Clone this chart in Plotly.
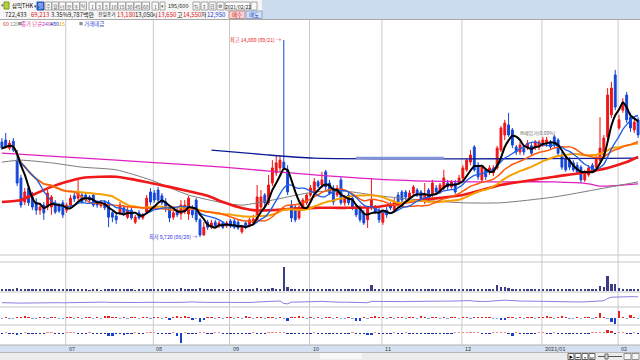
import plotly.graph_objects as go
import pandas as pd

# ---------------- data ----------------
month_labels = ["07", "08", "09", "10", "11", "12", "2021/01", "02"]
month_start = [17, 40, 60, 81, 100, 121, 142, 162]

open_p = [
    12170, 12220, 12010, 12190, 11700, 11240, 10620, 10980, 10750, 10620,
    10410, 10540, 10490, 10490, 10600, 10540, 10600, 10410, 10540, 10780,
    10720, 10800, 10800, 10750, 10800, 10620, 10520, 10600, 10600, 10340,
    10260, 10340, 10470, 10230, 10410, 10100, 10340, 10210, 10360, 10880,
    10850, 10930, 10780, 10620, 10470, 10230, 10410, 10310, 10410, 10310,
    10410, 10670, 10160, 9770, 10100, 9970, 10100, 10000, 10080, 10000,
    10130, 10130, 10100, 9850, 10080, 10030, 10080, 10160, 10490, 10800,
    10600, 11110, 11370, 11500, 11650, 11450, 10540, 10490, 10210, 10490,
    10600, 10800, 10880, 11140, 11060, 11400, 11110, 10980, 10800, 11190,
    10600, 10800, 10720, 10490, 10470, 10340, 10160, 10470, 10470, 10410,
    10100, 10410, 10540, 10410, 10800, 10880, 10880, 10720, 10850, 10930,
    10880, 10620, 10930, 10800, 10980, 10880, 10980, 11110, 11010, 11110,
    11110, 11240, 11450, 11650, 12040, 11570, 11190, 11450, 11400, 11370,
    11500, 11960, 12350, 12610, 12480, 12040, 11910, 12010, 12010, 12070,
    12040, 12040, 12090, 12120, 12170, 12300, 12220, 11830, 11750, 11700,
    11630, 11570, 11520, 11190, 11320, 11570, 11520, 11700, 11830, 12300,
    12870, 13900, 12530, 12990, 13380, 12810, 12480, 12740]

high_p = [
    12270, 12400, 12220, 12270, 11960, 11320, 10980, 11060, 10880, 10720,
    10600, 10620, 10930, 10800, 10670, 10600, 10670, 10600, 10800, 10850,
    11190, 10850, 10850, 10800, 10850, 10670, 10670, 10670, 10670, 10410,
    10340, 10620, 10540, 10490, 10490, 10290, 10410, 10340, 10800, 10980,
    10930, 11010, 10850, 10720, 10540, 10410, 10490, 10670, 10670, 10780,
    10540, 10720, 10210, 10100, 10160, 10160, 10160, 10130, 10130, 10130,
    10180, 10180, 10160, 10030, 10130, 10210, 10290, 11060, 10930, 10850,
    11320, 11700, 11830, 11830, 14800, 11570, 10670, 10570, 10540, 10720,
    10850, 11060, 11240, 11190, 11400, 11450, 11190, 11060, 11060, 11270,
    10800, 10880, 10800, 10570, 10540, 10410, 10520, 11240, 10540, 10470,
    10410, 10490, 10620, 10720, 10880, 10930, 10930, 10930, 11060, 10980,
    10930, 11110, 10980, 11190, 11060, 11110, 11450, 11190, 11190, 11190,
    11320, 11570, 11750, 11960, 12090, 11650, 11570, 11500, 11570, 11570,
    12070, 12580, 12740, 12920, 12530, 12090, 12170, 12090, 12220, 12140,
    12220, 12220, 12300, 12300, 12220, 12350, 12270, 11910, 11830, 11780,
    11700, 11650, 11570, 11450, 11570, 11630, 11830, 12810, 12350, 13560,
    13720, 14030, 12870, 13300, 13460, 12920, 12790, 12810]

low_p = [
    11960, 12010, 11960, 11910, 11030, 10470, 10540, 10520, 10410, 10290,
    10290, 10160, 10410, 10290, 10310, 10340, 10210, 10340, 10490, 10620,
    10670, 10570, 10620, 10600, 10490, 10470, 10470, 10410, 9970, 10100,
    10050, 10290, 10260, 10180, 10160, 10050, 10160, 10160, 10310, 10540,
    10600, 10620, 10540, 10360, 10100, 10160, 10230, 10160, 10310, 10160,
    10210, 10100, 9720, 9750, 9900, 9920, 9950, 9950, 9920, 9950,
    9950, 9920, 9900, 9800, 9920, 9970, 10030, 10100, 10410, 10520,
    10540, 11030, 11290, 11400, 11450, 10800, 10100, 10100, 10160, 10410,
    10540, 10750, 10830, 10980, 10980, 10930, 10800, 10540, 10750, 10540,
    10520, 10540, 10410, 10230, 10100, 10030, 9950, 10410, 10310, 10080,
    10030, 10210, 10410, 10360, 10540, 10620, 10670, 10670, 10780, 10750,
    10620, 10570, 10600, 10750, 10800, 10830, 10930, 10930, 10960, 10830,
    11060, 11190, 11400, 11570, 11400, 11190, 11140, 11190, 11320, 11290,
    11450, 11910, 12220, 12300, 12010, 11830, 11830, 11830, 11960, 11810,
    11960, 11960, 12040, 12040, 11960, 12010, 11810, 11450, 11400, 11450,
    11400, 11340, 11110, 11140, 11270, 11400, 11450, 11650, 11750, 12220,
    12790, 12990, 12480, 12920, 12660, 12430, 12400, 12270]

close_p = [
    12010, 12070, 12140, 11960, 11110, 10540, 10880, 10600, 10490, 10410,
    10490, 10340, 10850, 10750, 10360, 10390, 10290, 10540, 10720, 10700,
    10880, 10620, 10670, 10670, 10540, 10540, 10600, 10470, 10230, 10230,
    10160, 10540, 10340, 10410, 10210, 10230, 10210, 10290, 10720, 10620,
    10670, 10670, 10600, 10470, 10210, 10340, 10290, 10540, 10540, 10720,
    10290, 10160, 9770, 9970, 9970, 10080, 10000, 10080, 9970, 10080,
    10000, 9970, 9950, 9970, 9970, 10160, 10180, 10750, 10750, 10600,
    11060, 11500, 11630, 11700, 11500, 10880, 10210, 10160, 10490, 10670,
    10800, 10980, 11140, 11030, 11190, 11010, 10850, 10620, 10980, 10600,
    10720, 10600, 10490, 10290, 10160, 10080, 10470, 10670, 10360, 10160,
    10360, 10290, 10470, 10620, 10620, 10670, 10750, 10850, 11010, 10800,
    10670, 10800, 10670, 11110, 10880, 11060, 11240, 11010, 11140, 10880,
    11240, 11500, 11700, 11830, 11450, 11270, 11520, 11270, 11500, 11500,
    12010, 12530, 12660, 12350, 12090, 11910, 12090, 11910, 12140, 11880,
    12170, 12170, 12220, 12220, 12040, 12090, 11880, 11520, 11450, 11520,
    11450, 11400, 11190, 11400, 11500, 11450, 11750, 12010, 12270, 13380,
    13560, 13070, 12740, 13200, 12740, 12530, 12680, 12350]

volume_k = [
    180, 150, 130, 160, 260, 240, 170, 150, 140, 130,
    120, 140, 180, 150, 120, 110, 130, 120, 140, 120,
    150, 120, 110, 100, 120, 110, 100, 130, 220, 150,
    130, 140, 120, 110, 120, 100, 110, 120, 170, 150,
    130, 140, 120, 130, 150, 120, 140, 330, 200, 220,
    150, 190, 260, 180, 140, 120, 110, 120, 110, 100,
    110, 100, 120, 130, 110, 120, 140, 320, 200, 150,
    220, 300, 250, 200, 2400, 380, 240, 180, 150, 140,
    130, 140, 160, 130, 150, 170, 140, 150, 130, 160,
    120, 130, 120, 140, 150, 140, 160, 600, 180, 140,
    130, 120, 110, 120, 140, 130, 120, 110, 140, 120,
    130, 150, 120, 160, 130, 140, 170, 130, 140, 130,
    150, 180, 190, 200, 220, 160, 150, 140, 130, 160,
    600, 430, 420, 300, 250, 180, 160, 150, 140, 150,
    160, 150, 140, 150, 130, 140, 160, 180, 170, 150,
    140, 150, 170, 140, 130, 120, 200, 500, 400, 1500,
    700, 700, 300, 250, 200, 220, 180, 170]

trend_line = [
    4.3, 4.4, 4.3, 4.2, 4.0, 3.9, 4.0, 4.1, 4.2, 4.3,
    4.3, 4.2, 4.4, 4.5, 4.4, 4.3, 4.2, 4.3, 4.6, 4.5,
    4.9, 5.0, 5.0, 4.9, 4.8, 4.8, 4.9, 4.9, 4.6, 4.5,
    4.4, 4.6, 4.5, 4.6, 4.5, 4.6, 4.5, 4.6, 4.8, 4.7,
    4.6, 4.7, 4.6, 4.5, 4.3, 4.4, 4.3, 4.6, 4.8, 5.2,
    5.1, 4.9, 4.5, 4.7, 4.6, 4.7, 4.6, 4.7, 4.6, 4.7,
    4.6, 4.5, 4.4, 4.5, 4.4, 4.5, 4.6, 5.0, 5.2, 5.1,
    5.4, 5.8, 6.0, 6.0, 3.5, 3.2, 4.8, 5.0, 5.2, 5.3,
    5.2, 5.4, 5.6, 5.5, 5.6, 5.3, 5.1, 4.9, 5.0, 4.7,
    4.8, 4.6, 4.5, 4.3, 4.1, 4.0, 4.3, 5.6, 5.5, 5.4,
    5.6, 5.5, 5.5, 5.6, 5.5, 5.4, 5.5, 5.6, 5.7, 5.6,
    5.5, 5.6, 5.5, 5.7, 5.6, 5.7, 5.9, 5.8, 5.9, 5.8,
    5.9, 6.2, 6.6, 6.4, 5.8, 5.4, 5.6, 5.5, 5.6, 5.7,
    6.3, 6.6, 6.8, 6.5, 6.0, 5.8, 5.9, 5.8, 5.9, 5.8,
    5.9, 6.0, 6.1, 6.0, 5.9, 5.8, 5.6, 5.4, 5.3, 5.4,
    5.3, 5.2, 5.0, 5.2, 5.3, 5.2, 5.4, 6.0, 6.3, 8.5,
    9.8, 10.0, 10.3, 10.5, 10.2, 10.3, 10.3, 10.2]

flow_a = [
    -1, 1, -1, -1, 1, 1, 2, 1, -1, -1,
    1, 1, -1, 1, 1, -1, -1, 1, 1, -1,
    1, -1, 1, 1, -1, 1, -1, 2, 2, 1,
    1, -1, 1, -1, 1, 1, -1, 1, 1, -1,
    1, 1, -1, 1, -2, 1, 2, 1, 2, 1,
    -2, -1, -4, -2, 1, 1, -1, 1, -1, 1,
    1, -1, 1, -1, 2, 1, -1, 1, 1, -1,
    1, 1, -1, 1, -1, -3, 1, 1, 2, 1,
    -1, 1, -1, 1, -1, 1, 1, -1, 1, -1,
    -1, 1, -1, -3, -3, 1, -1, 1, 2, 1,
    1, -1, 1, -1, 1, 1, -1, 1, 1, -1,
    2, 1, -1, 1, 1, -1, 1, -1, 1, 1,
    -1, 1, 1, -1, 1, 1, 1, 1, 1, -1,
    -1, -2, -2, 1, 1, -1, 1, -1, 1, 1,
    -1, 1, 1, 2, 1, -1, 1, 2, 1, -1,
    -1, 1, -1, 1, 1, -1, 1, 5, 1, -1,
    -4, -6, 7, 1, -1, 3, 1, -1]

flow_b = [
    -1, 1, -1, -1, -2, -1, 1, -1, -1, -1,
    -1, -1, 1, 1, -1, -1, -1, 1, 1, 1,
    -1, -1, -1, 1, -1, -1, -1, -1, -3, -3,
    -1, -1, -2, -1, -1, 1, -1, -1, 1, 1,
    1, -1, -1, -1, -1, 1, -3, -10, 1, -1,
    -1, -1, 1, 1, -1, -1, 1, 1, -1, -1,
    -1, -1, -1, -1, -1, -1, 1, -1, -1, -1,
    1, 1, 1, 1, 1, -1, -1, -1, -1, -1,
    -1, -1, 1, -1, -1, -1, -1, -1, -1, -1,
    -1, -1, 1, -1, -1, -1, -2, -2, 1, -1,
    -1, -1, -1, 1, -1, -1, 1, -1, -1, -1,
    -1, -1, -1, -1, -1, -1, -1, -1, -1, 1,
    1, 1, 1, 1, 1, 1, -1, -1, -1, 1,
    1, 1, 1, -1, -3, 1, -1, -1, -1, -1,
    -1, 1, 1, -1, -1, 1, -1, -1, -1, -1,
    -1, -1, -1, -1, -1, 1, 1, 1, 1, 3,
    2, -1, 1, 1, -1, -1, 1, -1]

# long moving averages (bar index, price)
ma60_idx = [0, 5, 8, 13, 17, 21, 26, 30, 34, 39, 43, 49, 54, 58, 62, 66, 71, 75, 82, 90,
            98, 110, 121, 131, 145, 154, 159, 164, 167]
ma60_val = [10620, 10670, 10800, 11010, 11140, 11240, 11270, 11270, 11210, 11110, 11030,
            10900, 10780, 10620, 10490, 10410, 10410, 10440, 10470, 10470, 10490, 10670,
            10800, 11060, 11270, 11400, 11500, 11650, 11780]
ma120_idx = [0, 5, 13, 21, 30, 39, 49, 58, 63, 71, 75, 82, 90, 99, 110, 121, 131, 145, 157, 167]
ma120_val = [11650, 11700, 11630, 11520, 11450, 11190, 10800, 10600, 10540, 10670, 10750,
             10880, 10900, 10780, 10670, 10600, 10600, 10750, 10960, 11140]
ma240_idx = [0, 17, 41, 58, 82, 102, 123, 145, 154, 157, 167]
ma240_val = [11880, 11780, 11630, 11520, 11320, 11190, 11140, 11140, 11090, 11030, 11090]
ma480_idx = [55, 68, 82, 167]
ma480_val = [11960, 11850, 11750, 11750]
level_idx = [93, 116]
level_val = [11760, 11760]

# ---------------- figure ----------------
W, H = 640, 360
FONT = "Noto Sans CJK KR, Noto Sans, sans-serif"


def px(x):
    return x / W


def py(y):
    return 1 - y / H


idx = list(range(len(close_p)))
cs = pd.Series(close_p)
ma5 = cs.rolling(5, min_periods=1).mean()
ma10 = cs.rolling(10, min_periods=1).mean()
ma20 = cs.rolling(20, min_periods=1).mean()
ma30 = cs.rolling(30, min_periods=1).mean()

fig = go.Figure()
fig.add_trace(go.Candlestick(
    x=idx, open=open_p, high=high_p, low=low_p, close=close_p,
    increasing=dict(line=dict(color="#f01414", width=1), fillcolor="#f01414"),
    decreasing=dict(line=dict(color="#1446d8", width=1), fillcolor="#1446d8"),
    whiskerwidth=0, hoverinfo="skip", yaxis="y"))


def line(xs, ys, color, w, yaxis="y"):
    fig.add_trace(go.Scatter(x=xs, y=ys, mode="lines", yaxis=yaxis,
                             line=dict(color=color, width=w, shape="spline", smoothing=0.6),
                             hoverinfo="skip"))


line(ma480_idx, ma480_val, "#0c1c96", 1.3)
line(level_idx, level_val, "#8094dc", 2.2)
line(ma240_idx, ma240_val, "#e020c0", 1.3)
line(ma120_idx, ma120_val, "#7c7c7c", 1.0)
line(ma60_idx, ma60_val, "#f01818", 2.6)
line(idx, ma30, "#f5a000", 2.0)
line(idx, ma20, "#ff5a10", 1.5)
line(idx, ma10, "#1c5ee8", 1.3)
line(idx, ma5, "#000000", 2.0)

# volume
fig.add_trace(go.Bar(x=idx, y=volume_k, yaxis="y2", marker=dict(color="#3d3d85", line=dict(width=0)),
                     width=0.6, hoverinfo="skip"))
# line indicator
fig.add_trace(go.Scatter(x=idx, y=trend_line, yaxis="y3", mode="lines",
                         line=dict(color="#8a7ee0", width=1), hoverinfo="skip"))
# flow histograms
col_a = ["#e32222" if v > 0 else ("#7ea6e8" if v >= -1 else "#1c3fcf") for v in flow_a]
col_b = [("#f28a8a" if v <= 1 else "#e32222") if v > 0 else ("#1d2f99" if v >= -1 else "#1c3fcf")
         for v in flow_b]
fig.add_trace(go.Bar(x=idx, y=flow_a, yaxis="y4", marker=dict(color=col_a, line=dict(width=0)),
                     width=0.6, hoverinfo="skip"))
fig.add_trace(go.Bar(x=idx, y=flow_b, yaxis="y5", marker=dict(color=col_b, line=dict(width=0)),
                     width=0.6, hoverinfo="skip"))

shapes = []
ann = []


def rect(x0, y0, x1, y1, fill, border=None):
    shapes.append(dict(type="rect", xref="paper", yref="paper", x0=px(x0), x1=px(x1),
                       y0=py(y1), y1=py(y0), fillcolor=fill, layer="above",
                       line=dict(color=border if border else fill, width=1 if border else 0)))


def hline(y, x0, x1, color):
    shapes.append(dict(type="line", xref="paper", yref="paper", x0=px(x0), x1=px(x1),
                       y0=py(y), y1=py(y), line=dict(color=color, width=1), layer="above"))


def text(x, y, s, color="#000000", size=6, anchor="left"):
    ann.append(dict(xref="paper", yref="paper", x=px(x), y=py(y), text=s, showarrow=False,
                    xanchor=anchor, yanchor="middle", borderpad=0,
                    font=dict(family=FONT, size=size, color=color)))


# month grid lines
for m in month_start:
    shapes.append(dict(type="line", xref="x", yref="paper", x0=m - 0.25, x1=m - 0.25,
                       y0=py(345), y1=py(20), line=dict(color="#cacaca", width=1), layer="below"))
# panel separators
for yy in [255, 262, 292, 307, 325]:
    hline(yy, 0, 640, "#c4c4c4")

# header
rect(0, 0, 640, 20, "#f6f6f6")
rect(262, 0, 640, 19, "#cddbee")
hline(19.5, 0, 640, "#a8a8a8")
text(0, 5.5, "▾", "#555555", 4.5)
rect(4, 2, 9, 9, "#b8d040", "#7a9a20")
text(10.5, 6, "삼익THK", "#000000", 5.5)
text(32.5, 6, "▾", "#444444", 4.5)
rect(37, 2, 44, 10, "#2f64d4", "#2050b0")
text(40.5, 6, "일", "#ffffff", 5.5, "center")
btns = [(45, "주"), (52, "월"), (59, "년"), (66, "분"), (73, "초"), (80, "틱"),
        (89, "1"), (96, "3"), (103, "5"), (110, "10"), (118, "15"), (126, "30"), (134, "45"), (142, "60"),
        (152, "1")]
for bx, bt in btns:
    bw = 7 if len(bt) < 2 else 8
    rect(bx, 2, bx + bw - 0.5, 10, "#fafafa", "#a4a4a4")
    text(bx + bw / 2 - 0.2, 6, bt, "#555555", 5, "center")
rect(160, 2, 165, 10, "#fafafa", "#a4a4a4")
text(162.5, 6, "▾", "#555555", 4.5, "center")
text(167, 6, "195/600", "#222222", 5.5)
for bx, bt in [(193, "⇅"), (201, "↕"), (209, "日"), (217, "⚙")]:
    rect(bx, 2, bx + 7, 10, "#fafafa", "#a4a4a4")
    text(bx + 3.5, 6, bt, "#333333", 4.5, "center")
rect(225, 2, 250, 10, "#ffffff", "#a4a4a4")
text(237.5, 6, "2021/02/22", "#222222", 5, "center")
rect(251, 2, 257, 10, "#fafafa", "#a4a4a4")

text(4, 14.5, "722,433", "#222222", 6)
text(30, 14.5, "69,213", "#e02020", 6)
text(50, 14.5, "3.35%", "#222222", 6)
text(67, 14.5, "9,787백만", "#222222", 6)
text(97, 14.5, "전일종가", "#222222", 4.8)
text(116, 14.5, "13,180", "#e02020", 6)
text(134, 14.5, "13,050", "#222222", 6)
text(151, 14.5, "시", "#222222", 6)
text(157, 14.5, "13,650", "#e02020", 6)
text(176, 14.5, "고", "#222222", 6)
text(182, 14.5, "14,550", "#e02020", 6)
text(200, 14.5, "저", "#222222", 6)
text(206, 14.5, "12,950", "#2040d0", 6)
rect(229, 11, 245, 18.5, "#f8d4d4", "#c09090")
text(237, 14.8, "매수", "#d02020", 5.5, "center")
rect(246, 11, 262, 18.5, "#d4e2f8", "#8fa4c8")
text(254, 14.8, "매도", "#2040c0", 5.5, "center")

# legend row
text(2, 24, "60", "#e83030", 5.5)
text(8.5, 24, "120", "#888888", 5.5)
text(16.5, 24, "■", "#909090", 4)
text(20, 24, "종가 단순", "#e040a8", 5.5)
text(40.5, 24, "240", "#b040c0", 5.5)
text(48.5, 24, "480", "#2030b0", 5.5)
text(58, 24, "15", "#f0a000", 5.5)
text(78, 24, "■", "#909090", 4)
text(83, 24, "거래대금", "#3040d0", 5.5)

# high / low markers
hi_i = high_p.index(max(high_p))
lo_i = low_p.index(min(low_p))
ann.append(dict(xref="x", yref="y", x=hi_i, y=max(high_p), xanchor="right", yanchor="middle",
                xshift=-1, showarrow=False, text=f"최고 {max(high_p):,} (09/21) →",
                font=dict(family=FONT, size=5.2, color="#f02020")))
ann.append(dict(xref="x", yref="y", x=lo_i, y=min(low_p), xanchor="right", yanchor="middle",
                xshift=-1, showarrow=False, text=f"최저 {min(low_p):,} (08/20) →",
                font=dict(family=FONT, size=5.2, color="#3030e0")))
text(519, 133, "▦", "#808080", 4)
text(523, 133, "매입가(0.00%)", "#707070", 5)

# bottom axis strip and scrollbar
rect(0, 345, 640, 352, "#d5e1f1")
hline(345, 0, 640, "#b0b0b0")
for m, lab in zip(month_start, month_labels):
    ann.append(dict(xref="x", yref="paper", x=m - 0.25, y=py(348.6), xanchor="left", yanchor="middle",
                    xshift=1, showarrow=False, text=lab,
                    font=dict(family=FONT, size=5.5, color="#333333")))
rect(0, 352, 640, 360, "#ececec")
hline(352.5, 0, 640, "#b8b8b8")
rect(320, 353, 362, 359, "#f8f8f8")
for bx, bt in [(568, "▶"), (575, "⏮"), (582, "⏸"), (589, "⏭")]:
    rect(bx, 353.5, bx + 6, 359.5, "#ffffff", "#606060")
    text(bx + 3, 356.5, bt, "#000000", 4, "center")
hline(356.5, 598, 622, "#555555")
rect(605, 354, 608, 359, "#dddddd", "#666666")
rect(624, 353.5, 631, 359.5, "#f4f4f4", "#909090")
rect(632, 353.5, 639, 359.5, "#f4f4f4", "#909090")

fig.update_layout(
    width=W, height=H, margin=dict(l=0, r=0, t=0, b=0),
    paper_bgcolor="white", plot_bgcolor="rgba(0,0,0,0)", showlegend=False,
    bargap=0, barmode="overlay",
    xaxis=dict(range=[-0.5, 167.5], domain=[0, 1], visible=False, fixedrange=True,
               rangeslider=dict(visible=False)),
    yaxis=dict(domain=[py(255), py(20)], range=[9253, 15316], visible=False, fixedrange=True),
    yaxis2=dict(domain=[py(291), py(262)], range=[0, 2900], visible=False, anchor="x"),
    yaxis3=dict(domain=[py(307), py(292)], range=[0, 15], visible=False, anchor="x"),
    yaxis4=dict(domain=[py(325), py(307)], range=[-7, 11], visible=False, anchor="x"),
    yaxis5=dict(domain=[py(345), py(325)], range=[-12, 8], visible=False, anchor="x"),
    shapes=shapes, annotations=ann,
)

fig.write_html("out.html", config={"displayModeBar": False},
               post_script="document.body.style.margin='0';document.body.style.padding='0';"
                           "document.body.style.overflow='hidden';")
